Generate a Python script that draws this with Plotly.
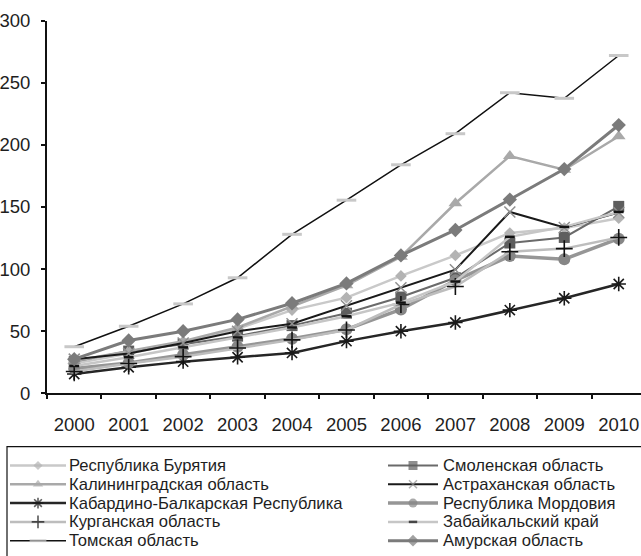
import plotly.graph_objects as go

W, H = 641, 556

years = ["2000", "2001", "2002", "2003", "2004", "2005", "2006", "2007", "2008", "2009", "2010"]

buryatia = [24, 32, 41, 52, 67, 77, 94.5, 111, 129, 133, 141]
smolensk = [25.5, 34, 39.5, 46, 54.5, 64.5, 77.5, 93, 121, 125.5, 150.5]
kaliningrad = [26, 34, 42, 53, 70, 87, 110, 153, 191, 180, 207]
astrakhan = [27.5, 32, 40.5, 50, 56, 70.5, 85, 99.5, 146, 133.5, 145.5]
kbr = [15.5, 21, 25.5, 29, 32.5, 42, 50, 57, 67, 76.5, 88]
mordovia = [20, 24.5, 31, 37.5, 44, 51.5, 67.5, 91, 110.5, 108, 124.5]
kurgan = [17.5, 24, 29.5, 36.5, 43, 51, 71.5, 86, 114, 116.5, 125.5]
zabaikal = [22, 29, 37, 45, 53, 62, 73, 90, 126, 134, 146]
tomsk = [37.5, 54, 72, 93, 128, 155.5, 184, 209, 242, 237.5, 272]
amur = [27.5, 42.5, 50, 59.5, 72.5, 88.5, 111, 131.5, 156, 180.5, 216]

names = ["Республика Бурятия", "Смоленская область", "Калининградская область",
         "Астраханская область", "Кабардино-Балкарская Республика", "Республика Мордовия",
         "Курганская область", "Забайкальский край", "Томская область", "Амурская область"]
values = [buryatia, smolensk, kaliningrad, astrakhan, kbr, mordovia, kurgan, zabaikal, tomsk, amur]

y_ticks = [0, 50, 100, 150, 200, 250, 300]

# styles: (line color, line width, marker symbol, marker color, marker size, marker line color, marker line width, legend marker size)
styles = [
    ("#c9c9c9", 2.5, "diamond", "#b3b3b3", 9, "#b3b3b3", 0, 7),
    ("#6a6a6a", 2.0, "square", "#5e5e5e", 11, "#5e5e5e", 0, 9),
    ("#a9a9a9", 2.5, "triangle-up", "#a9a9a9", 12, "#a9a9a9", 0, 9),
    ("#1a1a1a", 2.0, "x-thin", "#8f8f8f", 11, "#8f8f8f", 1.5, 8),
    ("#262626", 2.5, "asterisk-open", "#1a1a1a", 12, "#1a1a1a", 1.6, 9),
    ("#969696", 3.5, "circle", "#868686", 12, "#868686", 0, 9),
    ("#bdbdbd", 2.5, "cross-thin-open", "#111111", 12, "#111111", 1.6, 9),
    ("#c6c6c6", 2.5, "line-ew", "#111111", 7, "#111111", 2.5, 6),
    ("#111111", 1.5, "line-ew", "#c8c8c8", 14, "#c8c8c8", 3, 12),
    ("#7b7b7b", 3.0, "diamond", "#7b7b7b", 11, "#7b7b7b", 0, 9),
]

# plot area in pixels
L, R, T, B = 47, 641, 20.7, 393.3
cat_w = 54.45
x_range = [-0.5, -0.5 + (R - L) / cat_w]

fig = go.Figure()

for name, vals, st in zip(names, values, styles):
    lc, lw, sym, mc, ms, mlc, mlw, _ = st
    fig.add_trace(go.Scatter(
        x=years, y=vals, name=name, mode="lines+markers",
        line=dict(color=lc, width=lw),
        marker=dict(symbol=sym, color=mc, size=ms, line=dict(color=mlc, width=mlw)),
        showlegend=False, xaxis="x", yaxis="y", cliponaxis=False,
    ))

# legend drawn in a pixel coordinate overlay axis
font_family = "Liberation Sans, Arial, sans-serif"
txt_color = "#1e1e1e"
col_line = [(10, 66), (388, 438)]
col_text = [68, 442]
row_y0, row_dy = 465.5, 18.8
annotations = []
for i, (name, st) in enumerate(zip(names, styles)):
    lc, lw, sym, mc, ms, mlc, mlw, lms = st
    c, r = i % 2, i // 2
    x0, x1 = col_line[c]
    yy = row_y0 + r * row_dy
    xm = (x0 + x1) / 2
    fig.add_trace(go.Scatter(
        x=[x0, xm, x1], y=[yy, yy, yy], mode="lines+markers",
        line=dict(color=lc, width=lw),
        marker=dict(symbol=sym, color=mc, size=[0, lms, 0], line=dict(color=mlc, width=mlw)),
        showlegend=False, xaxis="x2", yaxis="y2", hoverinfo="skip", cliponaxis=False,
    ))
    annotations.append(dict(
        x=col_text[c], y=yy, xref="x2", yref="y2", text=name, showarrow=False,
        xanchor="left", yanchor="middle", borderpad=0,
        font=dict(family=font_family, size=16.6, color=txt_color),
    ))

fig.update_layout(
    template="none",
    width=W, height=H,
    margin=dict(l=0, r=0, t=0, b=0, pad=0, autoexpand=False),
    paper_bgcolor="white", plot_bgcolor="rgba(0,0,0,0)",
    font=dict(family=font_family, size=18, color=txt_color),
    xaxis=dict(
        domain=[L / W, R / W], type="category", range=x_range, automargin=False,
        tickson="boundaries", ticks="outside", ticklen=4, tickwidth=1.5, tickcolor="#111",
        showline=True, linecolor="#111", linewidth=2, showgrid=False, zeroline=False,
        tickfont=dict(size=18.5, color=txt_color), ticklabelstandoff=13, anchor="y",
    ),
    yaxis=dict(
        domain=[(H - B) / H, (H - T) / H], range=[0, 300], tickvals=y_ticks, automargin=False,
        ticks="outside", ticklen=4, tickwidth=1.5, tickcolor="#111",
        showline=True, linecolor="#111", linewidth=2, showgrid=False, zeroline=False,
        tickfont=dict(size=18.5, color=txt_color), ticklabelstandoff=7, anchor="x",
    ),
    xaxis2=dict(domain=[0, 1], range=[0, W], visible=False, anchor="y2", fixedrange=True, automargin=False),
    yaxis2=dict(domain=[0, 1], range=[H, 0], visible=False, anchor="x2", fixedrange=True, automargin=False),
    shapes=[dict(type="rect", xref="x2", yref="y2", x0=7, x1=W + 10, y0=446.7, y1=H + 10,
                 line=dict(color="#111", width=1.2), fillcolor="rgba(0,0,0,0)")],
    annotations=annotations,
    showlegend=False,
)

fig.write_html("out.html", config={"displayModeBar": False},
               post_script="document.body.style.margin='0';document.body.style.overflow='hidden';")
